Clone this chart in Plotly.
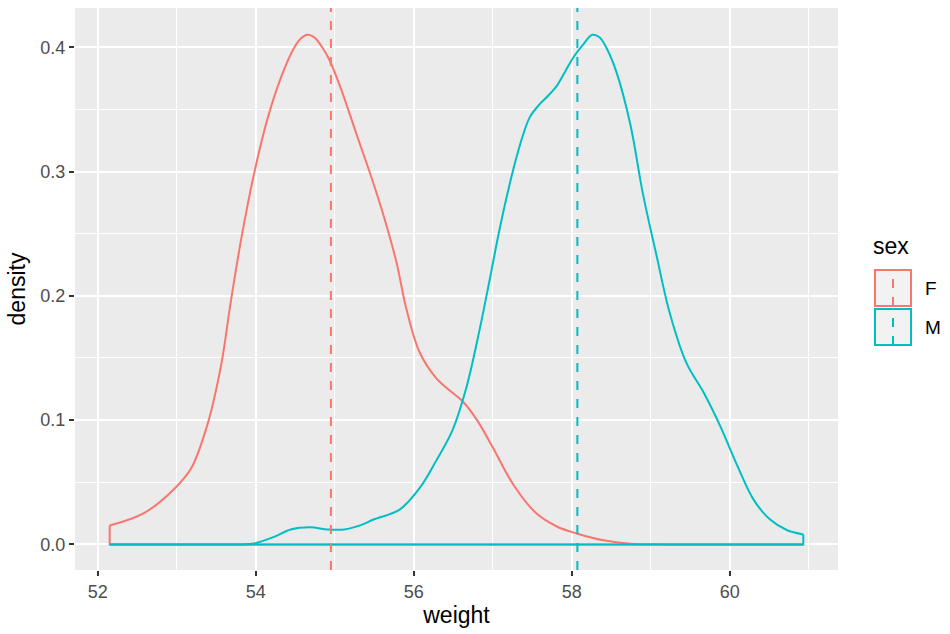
import plotly.graph_objects as go

# ---- data ----
sexes = ["F", "M"]
colors = {"F": "#F8766D", "M": "#00BFC4"}
means = {"F": 54.95, "M": 58.07}

f_x = [52.15, 52.59, 52.97, 53.18, 53.39, 53.56, 53.68, 53.81, 53.98, 54.15, 54.32, 54.48,
       54.57, 54.65, 54.74, 54.84, 54.93, 55.07, 55.28, 55.47, 55.61, 55.78, 55.90, 56.07,
       56.28, 56.45, 56.62, 56.80, 57.00, 57.26, 57.55, 57.81, 58.06, 58.40, 58.74, 59.20,
       60.00, 60.93]
f_y = [0.0152, 0.0254, 0.0448, 0.061, 0.097, 0.144, 0.194, 0.244, 0.299, 0.343, 0.376, 0.399,
       0.407, 0.410, 0.408, 0.400, 0.390, 0.368, 0.329, 0.294, 0.266, 0.227, 0.191, 0.155,
       0.134, 0.124, 0.115, 0.100, 0.078, 0.048, 0.025, 0.0144, 0.0088, 0.0033, 0.0006, 0.0,
       0.0, 0.0]

m_x = [52.15, 53.00, 53.80, 53.98, 54.23, 54.44, 54.69, 54.91, 55.12, 55.33, 55.49, 55.82,
       56.07, 56.28, 56.49, 56.66, 56.83, 56.96, 57.09, 57.26, 57.38, 57.47, 57.59, 57.70,
       57.81, 57.92, 58.02, 58.14, 58.26, 58.35, 58.45, 58.57, 58.74, 58.90, 59.07, 59.24,
       59.45, 59.67, 59.88, 60.09, 60.30, 60.51, 60.72, 60.93]
m_y = [0.0, 0.0, 0.0, 0.0008, 0.006, 0.012, 0.0138, 0.012, 0.012, 0.0155, 0.020, 0.028,
       0.045, 0.067, 0.092, 0.125, 0.172, 0.213, 0.255, 0.302, 0.329, 0.344, 0.354, 0.361,
       0.369, 0.381, 0.392, 0.402, 0.410, 0.408, 0.398, 0.379, 0.338, 0.282, 0.233, 0.186,
       0.146, 0.122, 0.095, 0.064, 0.036, 0.020, 0.0116, 0.008]

x_ticks = [52, 54, 56, 58, 60]
y_ticks = [0.0, 0.1, 0.2, 0.3, 0.4]
y_ticklabels = ["0.0", "0.1", "0.2", "0.3", "0.4"]

curves = {"F": (f_x, f_y), "M": (m_x, m_y)}

FONT = "Liberation Sans, Arial, sans-serif"
LW = 2.0
fig = go.Figure()

for s in sexes:
    xs, ys = curves[s]
    c = colors[s]
    fig.add_trace(go.Scatter(x=xs, y=ys, mode="lines",
                             line=dict(color=c, width=LW, shape="spline", smoothing=1.0),
                             showlegend=False, hoverinfo="skip"))
    fig.add_trace(go.Scatter(x=[xs[-1], xs[-1], xs[0], xs[0]],
                             y=[ys[-1], 0, 0, ys[0]], mode="lines",
                             line=dict(color=c, width=LW),
                             showlegend=False, hoverinfo="skip"))

for s in sexes:
    fig.add_shape(type="line", xref="x", yref="paper", x0=means[s], x1=means[s], y0=0, y1=1,
                  line=dict(color=colors[s], width=LW, dash="9px,9px"), layer="above")

# ---- manual ggplot-style legend ----
pw = 763.0
ph = 562.0
def px(x):
    return (x - 75) / pw
def py(y):
    return (570 - y) / ph

fig.add_annotation(x=px(871), y=py(246), xref="paper", yref="paper", text="sex",
                   showarrow=False, xanchor="left", yanchor="middle",
                   font=dict(family=FONT, size=23, color="#000000"))
key_tops = {"F": 270, "M": 309}
for s in sexes:
    t = key_tops[s]
    fig.add_shape(type="rect", xref="paper", yref="paper",
                  x0=px(875), x1=px(911), y0=py(t + 36), y1=py(t),
                  fillcolor="#F2F2F2", line=dict(color=colors[s], width=LW))
    fig.add_shape(type="line", xref="paper", yref="paper",
                  x0=px(893), x1=px(893), y0=py(t + 36), y1=py(t),
                  line=dict(color=colors[s], width=LW, dash="9px,9px"))
    fig.add_annotation(x=px(923), y=py(t + 18), xref="paper", yref="paper", text=s,
                       showarrow=False, xanchor="left", yanchor="middle",
                       font=dict(family=FONT, size=19, color="#000000"))

fig.update_layout(
    width=950, height=634,
    margin=dict(l=75, r=112, t=8, b=64),
    paper_bgcolor="white", plot_bgcolor="#EBEBEB",
    font=dict(family=FONT, size=18, color="#4D4D4D"),
    showlegend=False,
)
fig.update_xaxes(range=[51.711, 61.369], tickvals=x_ticks, ticktext=[str(v) for v in x_ticks],
                 showgrid=True, gridcolor="white", gridwidth=2, zeroline=False,
                 minor=dict(dtick=1, tick0=53, showgrid=True, gridcolor="white", gridwidth=1),
                 ticks="outside", ticklen=5, tickcolor="#333333", tickwidth=2,
                 tickfont=dict(size=18, color="#4D4D4D"),
                 title=dict(text="weight", font=dict(size=23, color="#000000"), standoff=5),
                 showline=False)
fig.update_yaxes(range=[-0.0206, 0.4316], tickvals=y_ticks, ticktext=y_ticklabels,
                 showgrid=True, gridcolor="white", gridwidth=2, zeroline=False,
                 minor=dict(dtick=0.05, tick0=0.05, showgrid=True, gridcolor="white", gridwidth=1),
                 ticks="outside", ticklen=5, tickcolor="#333333", tickwidth=2,
                 tickfont=dict(size=18, color="#4D4D4D"),
                 title=dict(text="density", font=dict(size=23, color="#000000"), standoff=8),
                 showline=False)

fig.write_html("out.html")
